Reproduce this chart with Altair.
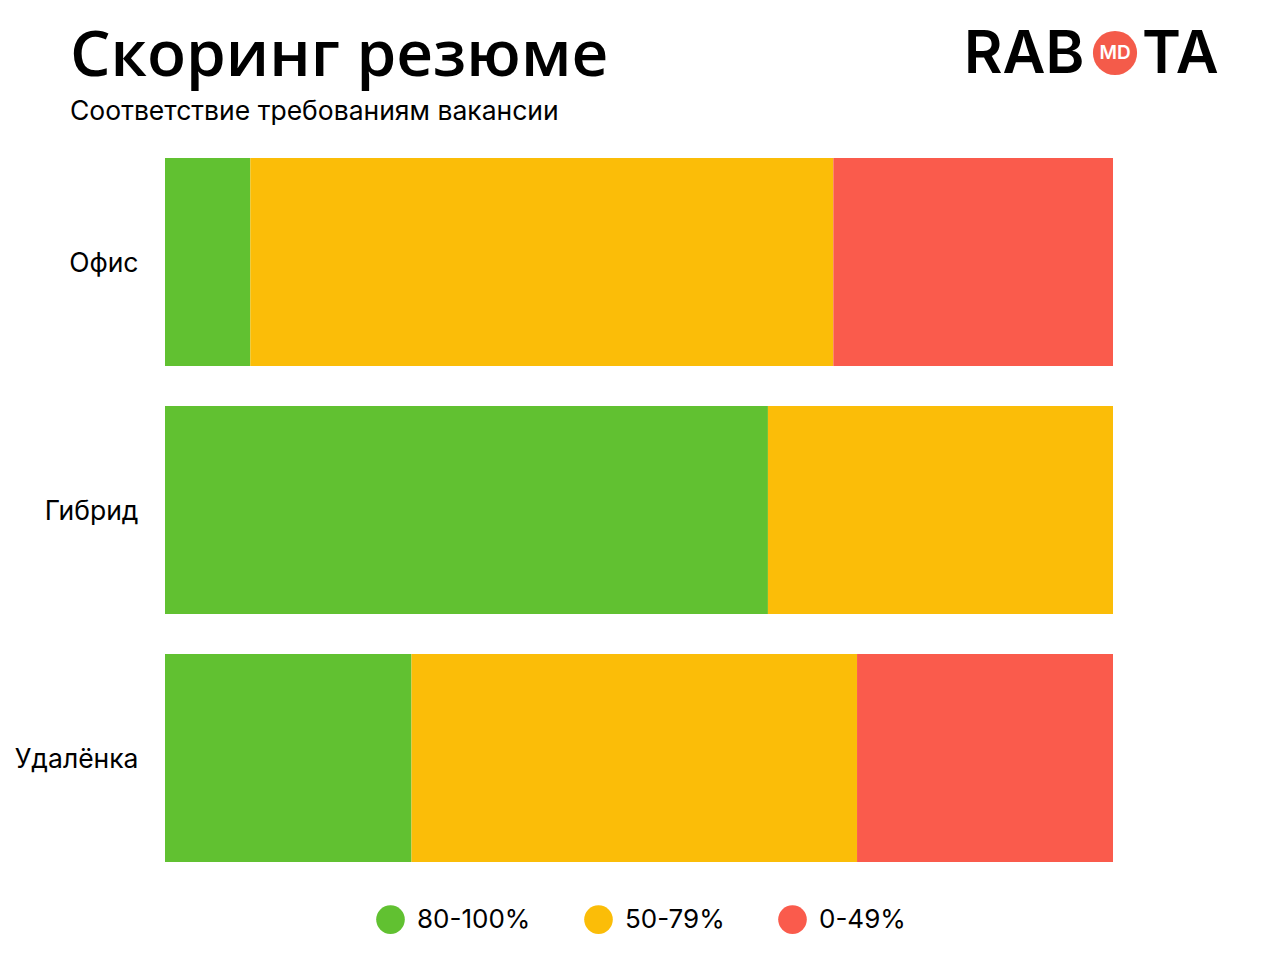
import altair as alt
import pandas as pd

categories = ["Офис", "Гибрид", "Удалёнка"]
groups = ["80-100%", "50-79%", "0-49%"]
colors = ["#61C131", "#FBBD08", "#FA5B4C"]
office = [9, 61.5, 29.5]
hybrid = [63.6, 36.4, 0]
remote = [26, 47, 27]

rows = []
for cat, vals in zip(categories, [office, hybrid, remote]):
    for i, (g, v) in enumerate(zip(groups, vals)):
        if v > 0:
            rows.append({"cat": cat, "group": g, "value": v, "ord": i})
df = pd.DataFrame(rows)

W, H = 948, 744
bars = alt.Chart(df).mark_bar(size=208).encode(
    y=alt.Y("cat:N", sort=categories,
            scale=alt.Scale(paddingInner=0.16, paddingOuter=0.08),
            axis=alt.Axis(title=None, domain=False, ticks=False, labelPadding=27,
                          labelOffset=2,
                          labelFont="Inter", labelFontSize=26.5, labelColor="#000000")),
    x=alt.X("value:Q", stack="zero", scale=alt.Scale(domain=[0, 100]), axis=None),
    color=alt.Color("group:N", sort=groups,
                    scale=alt.Scale(domain=groups, range=colors),
                    legend=alt.Legend(title=None, orient="none", direction="horizontal",
                                      legendX=211, legendY=767, symbolType="circle",
                                      symbolSize=820, symbolStrokeWidth=0,
                                      labelFont="Inter", labelFontSize=26,
                                      labelColor="#000000", labelOffset=12,
                                      columnPadding=53, symbolOpacity=1)),
    order=alt.Order("ord:Q"),
)

def txt(text, x, y, size, weight="normal", color="#000000", font="Inter",
        align="left", baseline="alphabetic"):
    return alt.Chart(pd.DataFrame({"t": [text]})).mark_text(
        font=font, fontSize=size, fontWeight=weight, color=color,
        align=align, baseline=baseline
    ).encode(text="t:N", x=alt.value(x), y=alt.value(y))

title = txt("Скоринг резюме", -95, -62, 64, weight=600, font="Open Sans")
subtitle = txt("Соответствие требованиям вакансии", -95, -18, 26.5)
logo_rab = txt("RAB", 799, -65, 59, weight=600)
logo_ta = txt("TA", 977, -65, 59, weight=600)
logo_circle = alt.Chart(pd.DataFrame({"a": [1]})).mark_circle(
    size=1950, color="#F45B4A", opacity=1
).encode(x=alt.value(950), y=alt.value(-85))
logo_md = txt("MD", 950, -85, 19, weight=600, color="#ffffff",
              align="center", baseline="middle")

chart = alt.layer(bars, title, subtitle, logo_rab, logo_ta, logo_circle, logo_md).properties(
    width=W, height=H,
    background="#ffffff",
    autosize=alt.AutoSizeParams(type="none"),
    padding={"left": 165, "top": 138, "right": 167, "bottom": 78},
).configure_view(strokeWidth=0, stroke=None)

chart.save("out.html", embed_options={"renderer": "svg", "actions": False})
